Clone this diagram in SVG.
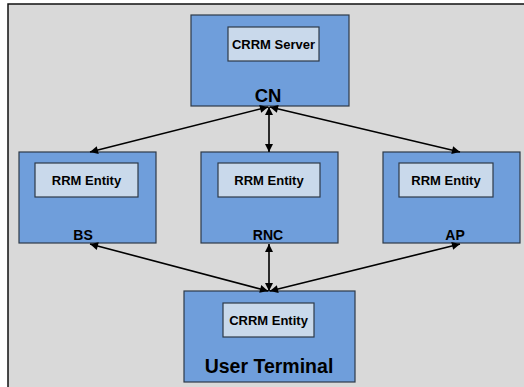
<svg xmlns="http://www.w3.org/2000/svg" width="524" height="387" viewBox="0 0 524 387">
  <defs>
    <marker id="arr" viewBox="0 0 10 10" refX="10" refY="5" markerWidth="10" markerHeight="8" markerUnits="userSpaceOnUse" orient="auto-start-reverse">
      <path d="M0,0 L10,5 L0,10 z" fill="#000"/>
    </marker>
    <style>
      .node { fill: #6f9edb; stroke: #2e3a48; stroke-width: 1.2; }
      .inner { fill: #c9d9eb; stroke: #2e3a48; stroke-width: 1.2; }
      .lbl { font-family: "Liberation Sans", Arial, sans-serif; font-weight: bold; fill: #000; text-anchor: middle; }
      .edge { stroke: #000; stroke-width: 1.6; fill: none; marker-start: url(#arr); marker-end: url(#arr); }
    </style>
  </defs>
  <rect width="524" height="387" fill="#fff"/>
  <rect x="8" y="4" width="520" height="390" fill="#d9d9d9" stroke="#111" stroke-width="1.5"/>

  <g id="cn">
    <rect class="node" x="191" y="15" width="158" height="91"/>
    <rect class="inner" x="228" y="27" width="91" height="34"/>
    <text class="lbl" x="273.5" y="48.5" font-size="13">CRRM Server</text>
    <text class="lbl" x="268" y="102" font-size="18.5">CN</text>
  </g>
  <g id="bs">
    <rect class="node" x="19" y="152" width="137" height="91"/>
    <rect class="inner" x="35" y="163" width="103" height="34"/>
    <text class="lbl" x="86.5" y="184.5" font-size="13">RRM Entity</text>
    <text class="lbl" x="83" y="240" font-size="14">BS</text>
  </g>
  <g id="rnc">
    <rect class="node" x="201" y="152" width="137" height="91"/>
    <rect class="inner" x="218" y="163" width="102" height="34"/>
    <text class="lbl" x="269" y="184.5" font-size="13">RRM Entity</text>
    <text class="lbl" x="268" y="240" font-size="14">RNC</text>
  </g>
  <g id="ap">
    <rect class="node" x="383" y="152" width="137" height="91"/>
    <rect class="inner" x="399" y="163" width="94" height="34"/>
    <text class="lbl" x="446" y="184.5" font-size="13">RRM Entity</text>
    <text class="lbl" x="455" y="240" font-size="14">AP</text>
  </g>
  <g id="ut">
    <rect class="node" x="184" y="291" width="171" height="91"/>
    <rect class="inner" x="223" y="303" width="91" height="34"/>
    <text class="lbl" x="268.5" y="324.5" font-size="13">CRRM Entity</text>
    <text class="lbl" x="269" y="373" font-size="19.5">User Terminal</text>
  </g>

  <g id="connectors">
    <line class="edge" x1="268" y1="107" x2="90" y2="152"/>
    <line class="edge" x1="269" y1="107" x2="269" y2="152"/>
    <line class="edge" x1="270" y1="107" x2="460" y2="152"/>
    <line class="edge" x1="90" y1="244" x2="268" y2="291"/>
    <line class="edge" x1="269" y1="244" x2="269" y2="291"/>
    <line class="edge" x1="460" y1="244" x2="270" y2="291"/>
  </g>
</svg>
